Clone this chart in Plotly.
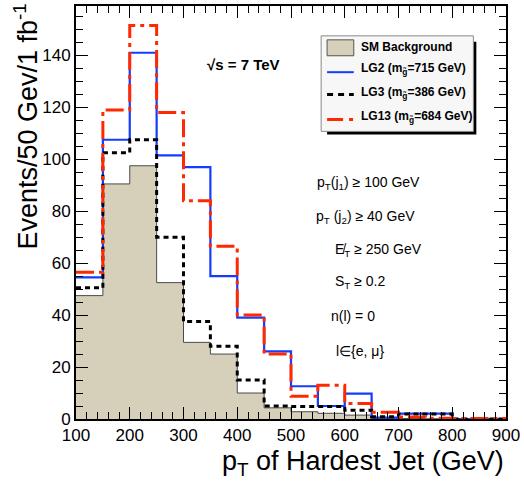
import plotly.graph_objects as go

# ---------------- data ----------------
bin_edges = [100, 150, 200, 250, 300, 350, 400, 450, 500, 550, 600, 650, 700, 750, 800, 850, 900]
sm_background = [47.5, 90.5, 97.5, 52.5, 29.5, 25.0, 10.0, 4.3, 2.8, 2.2, 1.5, 0.3, 0.2, 0.1, 0.0, 0.0]
lg3_values = [50.5, 102.5, 107.5, 70.0, 37.5, 28.0, 15.0, 5.0, 4.8, 4.8, 3.4, 0.9, 1.9, 1.9, 0.0, 0.0]
lg2_values = [54.5, 107.5, 141.0, 101.5, 97.0, 55.0, 39.0, 26.0, 12.6, 5.0, 9.8, 0.5, 2.1, 2.1, 0.0, 0.0]
lg13_values = [56.5, 119.0, 151.5, 118.0, 84.0, 66.5, 40.0, 25.0, 8.8, 13.0, 6.0, 2.6, 0.8, 0.3, 0.2, 0.2]

x_ticks = [100, 200, 300, 400, 500, 600, 700, 800, 900]
y_ticks = [0, 20, 40, 60, 80, 100, 120, 140]

legend_labels = ["SM Background",
                 "LG2 (m<sub>g\u0303</sub>=715 GeV)",
                 "LG3 (m<sub>g\u0303</sub>=386 GeV)",
                 "LG13 (m<sub>g\u0303</sub>=684 GeV)"]
cut_labels = ["p<sub>T</sub>(j<sub>1</sub>) \u2265 100 GeV",
              "p<sub>T</sub> (j<sub>2</sub>) \u2265 40 GeV",
              "E\u0338<sub>T</sub> \u2265 250 GeV",
              "S<sub>T</sub> \u2265 0.2",
              "n(l) = 0",
              "l\u2208{e, \u03bc}"]

# ---------------- styles ----------------
W, H = 524, 487
L, R, T, B = 76, 13, 4, 68
PW, PH = W - L - R, H - T - B
FONT = "Liberation Sans, Arial, Helvetica, sans-serif"
SM_FILL = "#d6d0ba"
BLUE = "rgb(20,60,255)"
RED = "rgb(255,40,0)"
RED_DASH = "18px,5px,4px,5px"
BLK_DASH = "5px,4px"


def px(xp):
    return (xp - L) / PW


def py(yp):
    return (H - B - yp) / PH


def steps(vals):
    return list(vals) + [vals[-1]]


fig = go.Figure()
fig.add_trace(go.Scatter(x=bin_edges, y=steps(sm_background), mode="lines", line_shape="hv",
                         fill="tozeroy", fillcolor=SM_FILL,
                         line=dict(color="#4a4a4a", width=1), showlegend=False))
fig.add_trace(go.Scatter(x=bin_edges, y=steps(lg2_values), mode="lines", line_shape="hv",
                         line=dict(color=BLUE, width=2.2), showlegend=False))
fig.add_trace(go.Scatter(x=bin_edges, y=steps(lg3_values), mode="lines", line_shape="hv",
                         line=dict(color="black", width=3, dash=BLK_DASH), showlegend=False))
fig.add_trace(go.Scatter(x=bin_edges, y=steps(lg13_values), mode="lines", line_shape="hv",
                         line=dict(color=RED, width=3, dash=RED_DASH), showlegend=False))

shapes = []
annotations = []

# legend box with shadow
shapes.append(dict(type="rect", xref="paper", yref="paper", x0=px(330), x1=px(481), y0=py(133), y1=py(40),
                   fillcolor="black", line=dict(width=0), layer="above"))
shapes.append(dict(type="rect", xref="paper", yref="paper", x0=px(324), x1=px(478), y0=py(130), y1=py(34),
                   fillcolor="#f7f7f7", line=dict(color="#8a8a8a", width=1), layer="above"))
# legend swatches
shapes.append(dict(type="rect", xref="paper", yref="paper", x0=px(330), x1=px(357), y0=py(54), y1=py(38),
                   fillcolor=SM_FILL, line=dict(color="#555555", width=1), layer="above"))
shapes.append(dict(type="line", xref="paper", yref="paper", x0=px(330), x1=px(357), y0=py(70.5), y1=py(70.5),
                   line=dict(color=BLUE, width=2), layer="above"))
shapes.append(dict(type="line", xref="paper", yref="paper", x0=px(330), x1=px(357), y0=py(93), y1=py(93),
                   line=dict(color="black", width=3, dash="6px,5px"), layer="above"))
shapes.append(dict(type="line", xref="paper", yref="paper", x0=px(330), x1=px(357), y0=py(118), y1=py(118),
                   line=dict(color=RED, width=3, dash="16px,6px,4px,6px"), layer="above"))

legend_y = [45, 67, 91, 115.5]
for lab, yy in zip(legend_labels, legend_y):
    annotations.append(dict(text="<b>" + lab + "</b>", xref="paper", yref="paper", x=px(362), y=py(yy),
                            xanchor="left", yanchor="middle", showarrow=False,
                            font=dict(family=FONT, size=12, color="black")))

# sqrt(s) label
annotations.append(dict(text="<b>\u221as = 7 TeV</b>", xref="paper", yref="paper", x=px(207), y=py(63),
                        xanchor="left", yanchor="middle", showarrow=False,
                        font=dict(family=FONT, size=15, color="black")))

# cut labels
cut_x = [318, 317, 336, 336, 332, 337]
cut_y = [182, 216, 249, 281, 316, 351]
for lab, xx, yy in zip(cut_labels, cut_x, cut_y):
    annotations.append(dict(text=lab, xref="paper", yref="paper", x=px(xx), y=py(yy),
                            xanchor="left", yanchor="middle", showarrow=False,
                            font=dict(family=FONT, size=14, color="black")))

# axis titles
annotations.append(dict(text="Events/50 Gev/1 fb<sup>-1</sup>", xref="paper", yref="paper",
                        x=px(25), y=py(0), xanchor="center", yanchor="top", textangle=-90,
                        showarrow=False, font=dict(family=FONT, size=27, color="black")))
annotations.append(dict(text="p<sub>T</sub> of Hardest Jet (GeV)", xref="paper", yref="paper",
                        x=px(511), y=py(482), xanchor="right", yanchor="bottom",
                        showarrow=False, font=dict(family=FONT, size=27, color="black")))

fig.update_layout(
    width=W, height=H,
    margin=dict(l=L, r=R, t=T, b=B),
    paper_bgcolor="white", plot_bgcolor="white",
    shapes=shapes, annotations=annotations,
    showlegend=False,
    xaxis=dict(range=[100, 900], tickvals=x_ticks, ticktext=[str(v) for v in x_ticks],
               ticks="inside", ticklen=12, tickwidth=1, tickcolor="black",
               mirror="allticks", showline=True, linewidth=2, linecolor="black",
               showgrid=False, zeroline=False, ticklabeloverflow="allow",
               minor=dict(dtick=20, tick0=100, ticks="inside", ticklen=7, tickwidth=1, tickcolor="black",
                          showgrid=False),
               tickfont=dict(family=FONT, size=17, color="black")),
    yaxis=dict(range=[0, 159], tickvals=y_ticks, ticktext=[str(v) for v in y_ticks],
               ticks="inside", ticklen=12, tickwidth=1, tickcolor="black",
               mirror="allticks", showline=True, linewidth=2, linecolor="black",
               showgrid=False, zeroline=False,
               minor=dict(dtick=5, tick0=0, ticks="inside", ticklen=7, tickwidth=1, tickcolor="black",
                          showgrid=False),
               tickfont=dict(family=FONT, size=17, color="black")),
)

fig.write_html("out.html", config={"displayModeBar": False},
               post_script="document.body.style.margin='0';document.body.style.padding='0';"
                           "document.body.style.overflow='hidden';")
